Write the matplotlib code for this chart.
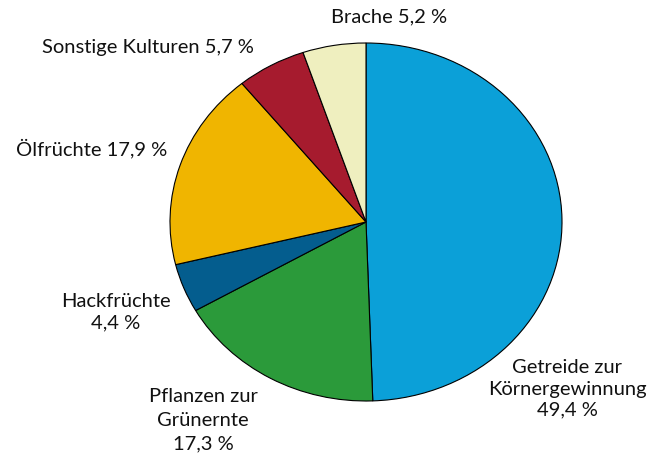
import matplotlib.pyplot as plt

# Anteile der Anbauflächen (in %)
labels = ["Getreide zur\nKörnergewinnung\n49,4 %", "Pflanzen zur\nGrünernte\n17,3 %",
          "Hackfrüchte\n4,4 %", "Ölfrüchte 17,9 %", "Sonstige Kulturen 5,7 %", "Brache 5,2 %"]
shares = [49.4, 17.3, 4.4, 17.9, 5.7, 5.2]
colors = ["#0ba0d8", "#2b9a3a", "#045d8e", "#f0b500", "#a61b2e", "#efefbf"]

# label centres in pixels (x, y from top) and line spacing
label_pos = [(567, 389), (203, 420), (116, 312), (92, 148), (148, 48), (389, 17)]
spacing = [1.3, 1.5, 1.35, 1.2, 1.2, 1.2]

W, H = 656, 457
plt.rcParams["font.family"] = ["Lato", "DejaVu Sans"]
fig = plt.figure(figsize=(W / 100, H / 100), dpi=100)
ax = fig.add_axes([170 / W, 1 - 401 / H, 392 / W, 358 / H])

ax.pie(shares, colors=colors, startangle=90, counterclock=False, radius=1,
       wedgeprops=dict(edgecolor="black", linewidth=0.8))
ax.set_aspect("auto")
ax.set_xlim(-1, 1)
ax.set_ylim(-1, 1)
ax.axis("off")

for lab, (px, py), ls in zip(labels, label_pos, spacing):
    fig.text(px / W, 1 - py / H, lab, ha="center", va="center", fontsize=14.5,
             linespacing=ls, color="#111111")

fig.savefig("out.png", dpi=100)
